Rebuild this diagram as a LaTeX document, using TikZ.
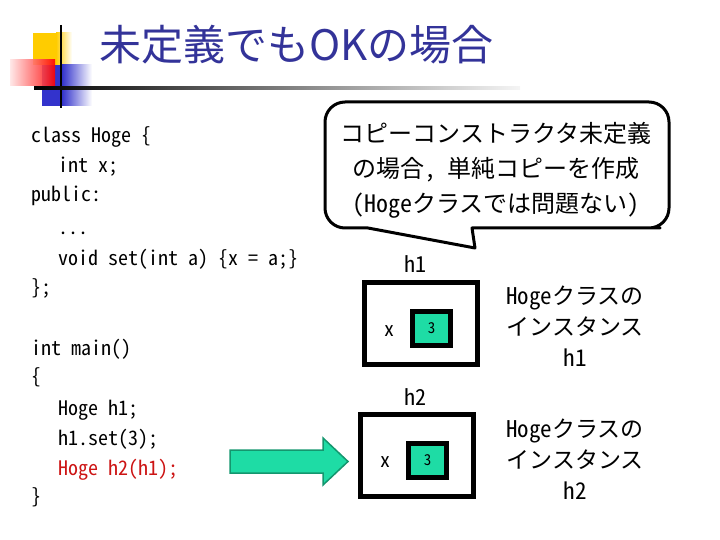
\documentclass[tikz,border=0pt]{standalone}
\usepackage{fontspec}
\setmainfont{Noto Sans CJK JP}[RawFeature=+hwid]
\newfontfamily\titlefont{Noto Sans CJK JP}
\usetikzlibrary{positioning}

\definecolor{titleblue}{RGB}{51,51,153}
\definecolor{valfill}{RGB}{30,220,165}
\definecolor{valline}{RGB}{20,150,110}
\definecolor{logoyellow}{RGB}{255,204,0}
\definecolor{logoblue}{RGB}{51,51,204}
\definecolor{codered}{RGB}{204,20,20}

\begin{document}
\begin{tikzpicture}[
  x=1pt, y=-1pt,
  code/.style = {anchor=base west, inner sep=0pt,
    font=\fontsize{20}{24}\selectfont},
  objbox/.style = {draw, line width=5pt,
    minimum width=113pt, minimum height=82pt, inner sep=0pt},
  valbox/.style = {draw, line width=5pt, fill=valfill,
    minimum width=38pt, minimum height=34pt, inner sep=0pt,
    font=\fontsize{15}{18}\selectfont},
  objname/.style = {inner sep=0pt, font=\fontsize{22}{26}\selectfont},
  note/.style = {align=center, inner sep=0pt,
    font=\fontsize{23}{31}\selectfont},
  bubble/.style = {draw, line width=3pt, fill=white, line join=round},
  bigarrow/.style = {draw=valline, line width=1.5pt, fill=valfill}
]
\useasboundingbox (0,0) rectangle (720,540);

% logo in the corner
\fill[logoyellow] (33,33) rectangle (56,65);
\shade[left color=logoyellow, right color=white] (56,33) rectangle (72,65);
\fill[logoblue] (42,65) rectangle (62,106);
\shade[left color=logoblue, right color=white] (62,65) rectangle (92,106);
\shade[left color=red!10, right color=red, opacity=0.9] (10,60) rectangle (55,86);
\draw[line width=2pt] (61,25) -- (61,108);
\shade[left color=black, right color=black!4] (34,87) rectangle (520,89.5);

% title
\node[anchor=base west, inner sep=0pt, text=titleblue,
      font=\titlefont\fontsize{42}{48}\selectfont] (title) at (99,61) {未定義でもOKの場合};

% source code
\foreach \xx/\yy/\txt [count=\i] in {
    31/143/{class Hoge \{},
    58/173/{int x;},
    31/202/{public:},
    58/234/{...},
    58/265/{void set(int a) \{x = a;\}},
    31/294/{\};},
    31/355/{int main()},
    31/383/{\{},
    58/415/{Hoge h1;},
    58/445/{h1.set(3);},
    31/503/{\}}}
  \node[code] (code\i) at (\xx,\yy) {\txt};
\node[code, text=codered] (copyline) at (58,475) {Hoge h2(h1);};

% speech bubble
\draw[bubble] (475,248) -- (368,228) -- (350,228) [rounded corners=20pt]
  -- (325,228) -- (325,102) -- (669,102) -- (669,228) -- (640,228)
  [sharp corners] -- (472,228) -- cycle;
\node[note, font=\fontsize{24}{35}\selectfont] (msg) at (496,170)
  {コピーコンストラクタ未定義\\の場合，\hspace{0.5em}単純コピーを作成\\(Hogeクラスでは問題ない)};

% instance h1
\node[objbox] (h1box) at (421,323.5) {};
\node[valbox] (h1val) at (431.5,328.5) {3};
\node[objname, font=\fontsize{20}{24}\selectfont] (h1x) at (389,331) {x};
\node[objname] (h1name) at (415,264) {h1};
\node[note] (h1note) at (575,326) {Hogeクラスの\\インスタンス\\h1};

% instance h2
\node[objbox] (h2box) at (417,455) {};
\node[valbox] (h2val) at (427.5,460.5) {3};
\node[objname, font=\fontsize{20}{24}\selectfont] (h2x) at (385,462) {x};
\node[objname] (h2name) at (415,397) {h2};
\node[note] (h2note) at (575,459) {Hogeクラスの\\インスタンス\\h2};

% copy arrow
\coordinate (tip) at (348,461.5);
\draw[bigarrow] (230,450) -- (323,450) -- (323,438) -- (tip)
  -- (323,485) -- (323,473) -- (230,473) -- cycle;
\end{tikzpicture}
\end{document}
